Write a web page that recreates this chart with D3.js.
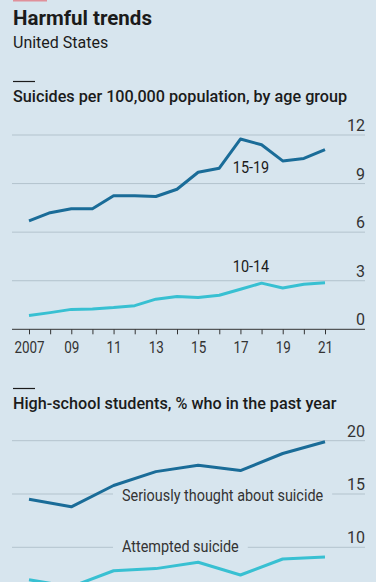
<!DOCTYPE html>
<html>
<head>
<meta charset="utf-8">
<script src="https://cdn.jsdelivr.net/npm/d3@7"></script>
<style>
  body { margin: 0; background: #d7e5ee; }
  text { fill: #1b1b1b; font-family: Roboto, sans-serif; }
</style>
</head>
<body>
<div id="chart"></div>
<script>
// Data
const years = [2007, 2008, 2009, 2010, 2011, 2012, 2013, 2014, 2015, 2016, 2017, 2018, 2019, 2020, 2021];
const age15to19 = [6.7, 7.2, 7.45, 7.45, 8.25, 8.25, 8.2, 8.65, 9.7, 9.95, 11.75, 11.4, 10.4, 10.55, 11.1];
const age10to14 = [0.85, 1.03, 1.23, 1.26, 1.34, 1.46, 1.86, 2.03, 1.96, 2.1, 2.47, 2.85, 2.55, 2.78, 2.88];

const surveyYears = [2007, 2009, 2011, 2013, 2015, 2017, 2019, 2021];
const thought = [14.5, 13.8, 15.8, 17.1, 17.7, 17.2, 18.8, 19.9];
const attempted = [6.95, 6.3, 7.8, 8.0, 8.6, 7.4, 8.9, 9.1];

const ticksTop = [0, 3, 6, 9, 12];
const ticksBottom = [5, 10, 15, 20];

const width = 376, height = 582;
const gridLeft = 12, gridRight = 365;
const bg = "#d7e5ee";
const darkBlue = "#1a6c98", lightBlue = "#38c0d2", gridCol = "#b3c3cd";

const svg = d3.select("#chart").append("svg")
  .attr("width", width).attr("height", height);

// squeeze text a little, the original uses a condensed face
function condense(sel, k) {
  sel.each(function () {
    const w = this.getComputedTextLength();
    d3.select(this).attr("textLength", w * k).attr("lengthAdjust", "spacingAndGlyphs");
  });
}

svg.append("rect").attr("width", width).attr("height", height).attr("fill", bg);
svg.append("rect").attr("x", 13).attr("y", 0).attr("width", 34).attr("height", 1.5).attr("fill", "#e0909a");

// Headings
svg.append("text").attr("x", 13).attr("y", 25)
  .style("font-weight", 700).style("font-size", "20.5px")
  .text("Harmful trends");
svg.append("text").attr("x", 13).attr("y", 48)
  .style("font-size", "16px")
  .text("United States");

function heading(y, label) {
  svg.append("line").attr("x1", 13).attr("x2", 35).attr("y1", y - 20.5).attr("y2", y - 20.5)
    .attr("stroke", "#1b1b1b").attr("stroke-width", 1.2);
  svg.append("text").attr("x", 13).attr("y", y)
    .style("font-weight", 500).style("font-size", "16.2px")
    .text(label);
}
heading(102, "Suicides per 100,000 population, by age group");
heading(409, "High-school students, % who in the past year");

// Scales
const x = d3.scaleLinear().domain([2007, 2021]).range([29, 325]);
const y1 = d3.scaleLinear().domain([0, 12]).range([329.3, 135]);
const y2 = d3.scaleLinear().domain([10, 20]).range([547.3, 440.7]);

// Top chart grid
const g1 = svg.append("g");
g1.selectAll("line.grid").data(ticksTop.filter(d => d > 0)).join("line")
  .attr("class", "grid")
  .attr("x1", gridLeft).attr("x2", gridRight)
  .attr("y1", d => y1(d)).attr("y2", d => y1(d))
  .attr("stroke", gridCol).attr("stroke-width", 1);
g1.selectAll("text.ytick").data(ticksTop).join("text")
  .attr("class", "ytick")
  .attr("x", gridRight).attr("y", d => y1(d) - 4)
  .attr("text-anchor", "end").style("font-size", "16px").style("fill", "#333")
  .text(d => d);

// x axis
const xAxis = d3.axisBottom(x)
  .tickValues(years)
  .tickSize(5)
  .tickFormat(d => (d % 2 === 1 ? (d === 2007 ? "2007" : String(d).slice(2)) : ""));
const gx = g1.append("g").attr("transform", `translate(0,${y1(0)})`).call(xAxis);
gx.select(".domain").remove();
gx.selectAll(".tick line").attr("stroke", "#333").attr("stroke-width", 1);
gx.selectAll(".tick text").style("font-size", "16px").style("font-family", "Roboto, sans-serif")
  .attr("dy", null).attr("y", 24).style("fill", "#333");
condense(gx.selectAll(".tick text").filter(d => d % 2 === 1), 0.84);
g1.append("line").attr("x1", gridLeft).attr("x2", gridRight)
  .attr("y1", y1(0)).attr("y2", y1(0)).attr("stroke", "#333").attr("stroke-width", 1);

const line1 = d3.line().x((d, i) => x(years[i])).y(d => y1(d));
g1.append("path").datum(age10to14).attr("d", line1)
  .attr("fill", "none").attr("stroke", lightBlue).attr("stroke-width", 3).attr("stroke-linejoin", "round");
g1.append("path").datum(age15to19).attr("d", line1)
  .attr("fill", "none").attr("stroke", darkBlue).attr("stroke-width", 3).attr("stroke-linejoin", "round");

const lab1 = g1.append("text").attr("x", x(2017.5)).attr("y", 173)
  .attr("text-anchor", "middle").style("font-size", "16px").text("15-19");
const lab2 = g1.append("text").attr("x", x(2017.5)).attr("y", 272)
  .attr("text-anchor", "middle").style("font-size", "16px").text("10-14");
condense(lab1, 0.9);
condense(lab2, 0.9);

// Bottom chart
const g2 = svg.append("g");
g2.selectAll("line.grid").data(ticksBottom).join("line")
  .attr("class", "grid")
  .attr("x1", gridLeft).attr("x2", gridRight)
  .attr("y1", d => y2(d)).attr("y2", d => y2(d))
  .attr("stroke", gridCol).attr("stroke-width", 1);
g2.selectAll("text.ytick").data(ticksBottom.filter(d => y2(d) < height)).join("text")
  .attr("class", "ytick")
  .attr("x", gridRight).attr("y", d => y2(d) - 4)
  .attr("text-anchor", "end").style("font-size", "16px").style("fill", "#333")
  .text(d => d);

function seriesLabel(label, xPos, yPos) {
  const t = g2.append("text").attr("x", xPos).attr("y", yPos)
    .style("font-size", "16px").style("fill", "#333").text(label);
  condense(t, 0.9);
  const bb = t.node().getBBox();
  g2.insert("rect", "text")
    .attr("x", bb.x - 9).attr("y", bb.y).attr("width", bb.width + 18).attr("height", bb.height)
    .attr("fill", bg);
}

const line2 = d3.line().x((d, i) => x(surveyYears[i])).y(d => y2(d));
seriesLabel("Seriously thought about suicide", 122, 501);
seriesLabel("Attempted suicide", 122, 552);
g2.append("path").datum(thought).attr("d", line2)
  .attr("fill", "none").attr("stroke", darkBlue).attr("stroke-width", 3).attr("stroke-linejoin", "round");
g2.append("path").datum(attempted).attr("d", line2)
  .attr("fill", "none").attr("stroke", lightBlue).attr("stroke-width", 3).attr("stroke-linejoin", "round");
</script>
</body>
</html>
